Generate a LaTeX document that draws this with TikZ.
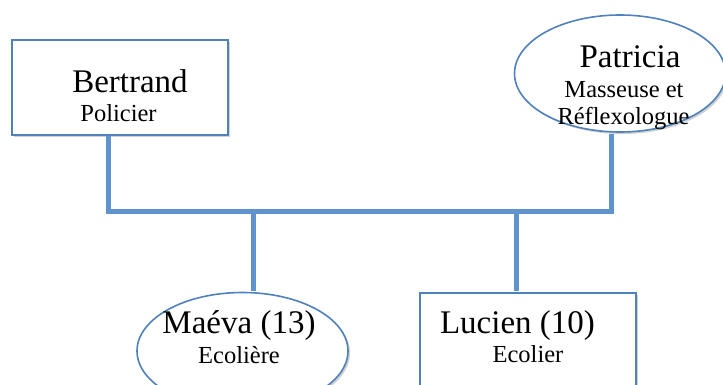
\documentclass[tikz,border=0pt]{standalone}
\usepackage{fontspec}
\setmainfont{Liberation Serif}
\usetikzlibrary{shapes.geometric,shadows}
\definecolor{bordbleu}{RGB}{79,129,189}
\definecolor{lienbleu}{RGB}{96,147,204}
\tikzset{
  ombre/.style={drop shadow={shadow xshift=2pt, shadow yshift=-2pt, opacity=0.18, fill=black}},
  boite/.style={rectangle, draw=bordbleu, line width=1.8pt, fill=white, ombre,
                minimum width=216pt, minimum height=95pt},
  oval/.style={ellipse, draw=bordbleu, line width=1.6pt, fill=white, ombre,
               minimum width=211pt, minimum height=117pt},
  nom/.style={anchor=base, inner sep=0pt, font=\fontsize{33}{36}\selectfont},
  metier/.style={anchor=base, inner sep=0pt, font=\fontsize{24.5}{28}\selectfont},
  lien/.style={draw=lienbleu, line width=5pt},
}

\begin{document}
\begin{tikzpicture}[x=1pt, y=-1pt]
\useasboundingbox (0,0) rectangle (723,385);
% parents
\node[boite] (bert) at (120,87.5) {};
\node[oval] (pat) at (620,73.5) {};
% enfants
\node[oval] (maeva) at (242.5,351) {};
\node[boite] (lucien) at (528,340.5) {};
% liens
\coordinate (barG) at (108,211);
\coordinate (barD) at (611,211);
\coordinate (jM) at (253,211);
\coordinate (jL) at (516,211);
\draw[lien] (barG |- bert.south) -- (barG) -- (barD) -- ([yshift=-1pt]barD |- pat.south);
\draw[lien] (jM) -- ([yshift=1pt]jM |- maeva.north);
\draw[lien] (jL) -- ([yshift=1pt]jL |- lucien.north);
% textes
\node[nom] (tbert) at (130,93) {Bertrand};
\node[metier] (mbert) at (118.5,122) {Policier};
\node[nom] (tpat) at (630,68) {Patricia};
\node[metier] (mpat) at (624,98) {Masseuse et};
\node[metier] (mpat2) at (623.5,125) {Réflexologue};
\node[nom] (tmaeva) at (239,333) {Maéva (13)};
\node[metier] (mmaeva) at (239,363) {Ecolière};
\node[nom] (tlucien) at (517.5,333) {Lucien (10)};
\node[metier] (mlucien) at (528,362) {Ecolier};
\end{tikzpicture}
\end{document}
